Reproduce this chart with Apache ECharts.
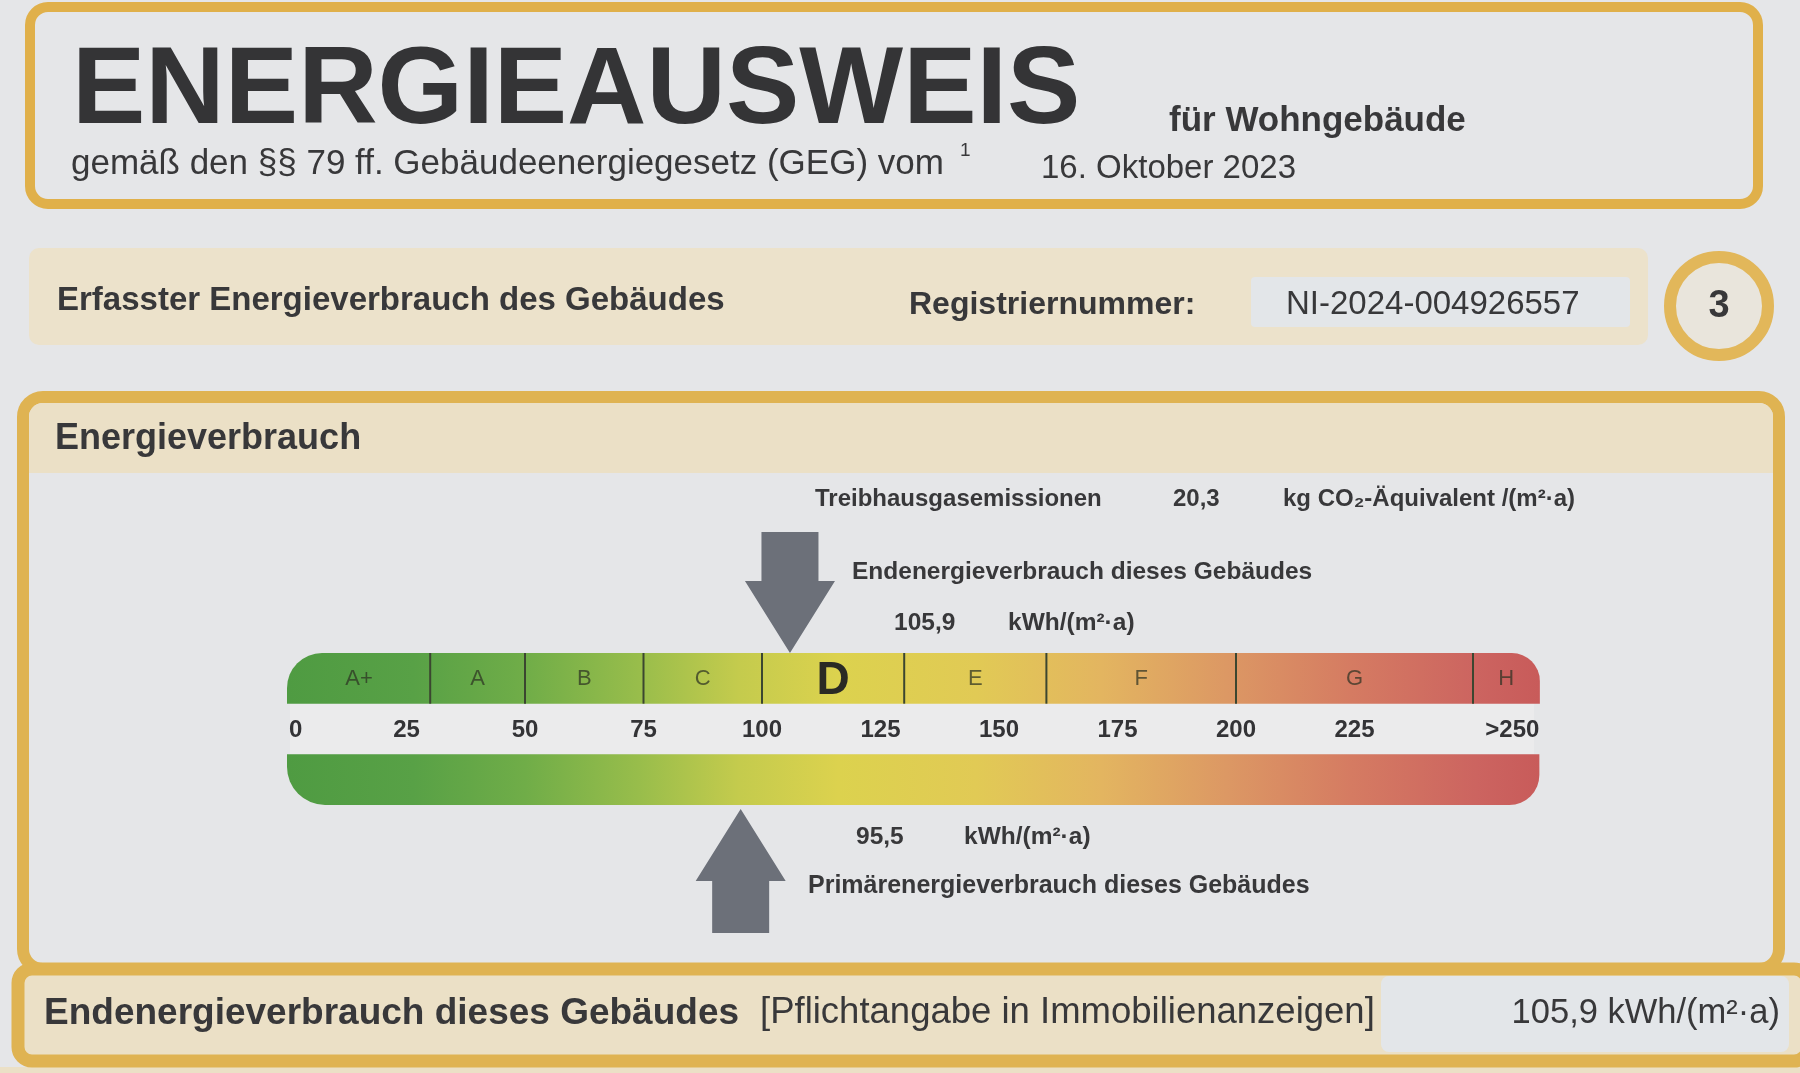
<!DOCTYPE html>
<html>
<head>
<meta charset="utf-8">
<script src="https://cdn.jsdelivr.net/npm/echarts@6/dist/echarts.min.js"></script>
<style>
  html,body{margin:0;padding:0;background:#e5e6e8;}
  #chart{width:1800px;height:1073px;}
</style>
</head>
<body>
<div id="chart"></div>
<script>
// ---- data ----
const classNames  = ['A+', 'A', 'B', 'C', 'D', 'E', 'F', 'G', 'H'];
const classLower  = [0, 30, 50, 75, 100, 130, 160, 200, 250];
const classUpper  = [30, 50, 75, 100, 130, 160, 200, 250, 264];
const tickValues  = [0, 25, 50, 75, 100, 125, 150, 175, 200, 225, 250];
const tickLabels  = ['0', '25', '50', '75', '100', '125', '150', '175', '200', '225', '>250'];
const scaleEnd    = 264;          // drawn end of the "> 250" zone
const endEnergy     = 105.9;      // Endenergieverbrauch kWh/(m²·a)
const primaryEnergy = 95.5;       // Primärenergieverbrauch kWh/(m²·a)
const ghgEmission   = 20.3;       // kg CO2-Äquivalent/(m²·a)
const regNumber     = 'NI-2024-004926557';
const pageNumber    = '3';
const issueDate     = '16. Oktober 2023';

// ---- helpers ----
const de = v => v.toFixed(1).replace('.', ',');
const FONT = '"Liberation Sans", Arial, "DejaVu Sans", sans-serif';
const PAPER = '#e5e6e8';
const GOLD = '#dfb352';
const BEIGE = '#ebe0c6';
const INK = '#38383a';
const ARROW = '#6c7079';
const gradStops = [
  {offset: 0.00, color: '#4f9b42'},
  {offset: 0.10, color: '#58a146'},
  {offset: 0.19, color: '#70ad48'},
  {offset: 0.28, color: '#98bd4b'},
  {offset: 0.36, color: '#c4cb4d'},
  {offset: 0.44, color: '#dcd24e'},
  {offset: 0.55, color: '#e1ca55'},
  {offset: 0.65, color: '#e3b560'},
  {offset: 0.75, color: '#dc9864'},
  {offset: 0.85, color: '#d57b62'},
  {offset: 0.95, color: '#cc6460'},
  {offset: 1.00, color: '#c85b5a'}
];

function txt(x, y, text, size, weight, extra) {
  return {
    type: 'text', x: x, y: y, z: 10,
    style: Object.assign({
      text: text, fontSize: size, fontWeight: weight || 'normal',
      fontFamily: FONT, fill: INK, align: 'left', verticalAlign: 'middle'
    }, extra || {})
  };
}

const chart = echarts.init(document.getElementById('chart'), null, {renderer: 'canvas'});

const graphics = [
  // top header box
  {type: 'rect', shape: {x: 30, y: 7, width: 1728, height: 197, r: 18},
   style: {fill: PAPER, stroke: '#e0b04a', lineWidth: 10}, z: 1},
  txt(72, 93, 'ENERGIEAUSWEIS', 110, 'bold', {fill: '#343436'}),
  txt(1169, 121, 'für Wohngebäude', 35, 'bold'),
  txt(71, 164, 'gemäß den §§ 79 ff. Gebäudeenergiegesetz (GEG) vom', 35, 'normal'),
  txt(960, 151, '1', 19, 'normal'),
  txt(1041, 169, issueDate, 33, 'normal'),

  // second band
  {type: 'rect', shape: {x: 29, y: 248, width: 1619, height: 97, r: 10},
   style: {fill: '#ece2cb'}, z: 1},
  {type: 'rect', shape: {x: 1251, y: 277, width: 379, height: 50, r: 4},
   style: {fill: '#e3e6e9'}, z: 2},
  txt(57, 301, 'Erfasster Energieverbrauch des Gebäudes', 33, 'bold'),
  txt(909, 305, 'Registriernummer:', 32, 'bold'),
  txt(1286, 305, regNumber, 33, 'normal'),
  {type: 'circle', shape: {cx: 1719, cy: 306, r: 49},
   style: {fill: '#e9e5dc', stroke: '#e2b75a', lineWidth: 12}, z: 2},
  txt(1719, 307, pageNumber, 38, 'bold', {align: 'center'}),

  // Energieverbrauch box
  {type: 'rect', shape: {x: 23, y: 397, width: 1756, height: 572, r: 20},
   style: {fill: PAPER, stroke: GOLD, lineWidth: 12}, z: 1},
  {type: 'rect', shape: {x: 29, y: 403, width: 1744, height: 70, r: [14, 14, 0, 0]},
   style: {fill: BEIGE}, z: 2},
  {type: 'rect', shape: {x: 290, y: 703, width: 1244, height: 51},
   style: {fill: '#ebebec'}, z: 2},
  txt(55, 439, 'Energieverbrauch', 36, 'bold'),
  txt(815, 499, 'Treibhausgasemissionen', 24, 'bold'),
  txt(1173, 499, de(ghgEmission), 24, 'bold'),
  txt(1283, 499, 'kg CO₂-Äquivalent /(m²·a)', 24, 'bold'),
  txt(852, 572, 'Endenergieverbrauch dieses Gebäudes', 24.5, 'bold'),
  txt(894, 623, de(endEnergy), 24.5, 'bold'),
  txt(1008, 623, 'kWh/(m²·a)', 24.5, 'bold'),
  txt(856, 837, de(primaryEnergy), 24.5, 'bold'),
  txt(964, 837, 'kWh/(m²·a)', 24.5, 'bold'),
  txt(808, 886, 'Primärenergieverbrauch dieses Gebäudes', 25, 'bold'),

  // bottom band
  {type: 'rect', shape: {x: 0, y: 1067, width: 1800, height: 6},
   style: {fill: BEIGE}, z: 1},
  {type: 'rect', shape: {x: 18, y: 969, width: 1790, height: 92, r: 14},
   style: {fill: BEIGE, stroke: GOLD, lineWidth: 13}, z: 2},
  {type: 'rect', shape: {x: 1381, y: 976, width: 408, height: 76, r: 8},
   style: {fill: '#e3e6e9'}, z: 3},
  txt(44, 1014, 'Endenergieverbrauch dieses Gebäudes', 37, 'bold'),
  txt(760, 1013, '[Pflichtangabe in Immobilienanzeigen]', 36.5, 'normal'),
  txt(1780, 1013, de(endEnergy) + ' kWh/(m²·a)', 34.5, 'normal', {align: 'right'})
];

function globalGrad(api) {
  const xs = api.coord([0, 0])[0];
  const xe = api.coord([scaleEnd, 0])[0];
  return new echarts.graphic.LinearGradient(xs, 0, xe, 0, gradStops, true);
}

const option = {
  backgroundColor: PAPER,
  animation: false,
  grid: {left: 288, top: 653, width: 1185, height: 152},
  xAxis: {type: 'value', min: 0, max: 250, show: false},
  yAxis: {type: 'value', min: 0, max: 3, show: false},
  graphic: {elements: graphics},
  series: [
    { // lower continuous gradient bar
      type: 'custom', clip: false, z: 3, silent: true,
      data: [[0, scaleEnd]],
      renderItem: function (params, api) {
        const p0 = api.coord([api.value(0), 1]);
        const p1 = api.coord([api.value(1), 0]);
        return {
          type: 'rect',
          shape: {x: p0[0] - 1, y: p0[1], width: p1[0] - p0[0] + 1, height: p1[1] - p0[1], r: [0, 0, 30, 38]},
          style: {fill: globalGrad(api)}
        };
      }
    },
    { // upper class bar with segments
      type: 'custom', clip: false, z: 4, silent: true,
      data: classLower.map((lo, i) => [lo, classUpper[i]]),
      renderItem: function (params, api) {
        const i = params.dataIndex;
        const lo = api.value(0), hi = api.value(1);
        const p0 = api.coord([lo, 3]);
        const p1 = api.coord([hi, 2]);
        const last = i === classNames.length - 1;
        const r = i === 0 ? [35, 0, 0, 0] : (last ? [0, 28, 0, 0] : 0);
        const isCls = endEnergy >= lo && (endEnergy < hi || last);
        const children = [{
          type: 'rect',
          shape: {x: p0[0] - (i === 0 ? 1 : 0), y: p0[1], width: p1[0] - p0[0] + (i === 0 ? 1 : 0) + 0.5, height: p1[1] - p0[1], r: r},
          style: {fill: globalGrad(api)}
        }];
        if (i > 0) {
          children.push({
            type: 'line',
            shape: {x1: p0[0], y1: p0[1], x2: p0[0], y2: p1[1]},
            style: {stroke: '#3b4630', lineWidth: 2}
          });
        }
        children.push({
          type: 'text',
          x: (p0[0] + p1[0]) / 2, y: (p0[1] + p1[1]) / 2 + (isCls ? 3 : 1),
          style: {
            text: classNames[i], fontFamily: FONT,
            fontSize: isCls ? 46 : 22, fontWeight: isCls ? 'bold' : 'normal',
            fill: isCls ? '#2a2a24' : 'rgba(45,50,35,0.72)',
            align: 'center', verticalAlign: 'middle'
          }
        });
        return {type: 'group', children: children};
      }
    },
    { // scale tick labels
      type: 'custom', clip: false, z: 5, silent: true,
      data: tickValues.map((v, i) => [v, i]),
      renderItem: function (params, api) {
        const i = params.dataIndex;
        const v = api.value(0);
        const n = tickValues.length;
        let x = api.coord([v, 1.5])[0];
        let align = 'center';
        if (i === 0) { align = 'left'; x += 1; }
        if (i === n - 1) { align = 'right'; x = api.coord([scaleEnd, 1.5])[0]; }
        const y = api.coord([v, 1.5])[1] + 1;
        return {
          type: 'text', x: x, y: y,
          style: {text: tickLabels[i], fontFamily: FONT, fontSize: 24, fontWeight: 'bold',
                  fill: '#333336', align: align, verticalAlign: 'middle'}
        };
      }
    },
    { // arrows marking end energy (down, above) and primary energy (up, below)
      type: 'custom', clip: false, z: 6, silent: true,
      data: [[endEnergy, 1], [primaryEnergy, -1]],
      renderItem: function (params, api) {
        const v = api.value(0);
        const dir = api.value(1);
        const tipY = dir > 0 ? 3 : 0;
        const tip = api.coord([v, tipY]);
        const tx = tip[0];
        const ty = tip[1] + (dir > 0 ? 0 : 4);
        const s = dir > 0 ? -1 : 1;   // direction of arrow body from tip
        const sw = 28.5, hw = 45, hh = 72, len = dir > 0 ? 121 : 124;
        return {
          type: 'polygon',
          shape: {points: [
            [tx - sw, ty + s * len], [tx + sw, ty + s * len], [tx + sw, ty + s * hh],
            [tx + hw, ty + s * hh], [tx, ty], [tx - hw, ty + s * hh], [tx - sw, ty + s * hh]
          ]},
          style: {fill: ARROW}
        };
      }
    }
  ]
};
chart.setOption(option);
</script>
</body>
</html>
